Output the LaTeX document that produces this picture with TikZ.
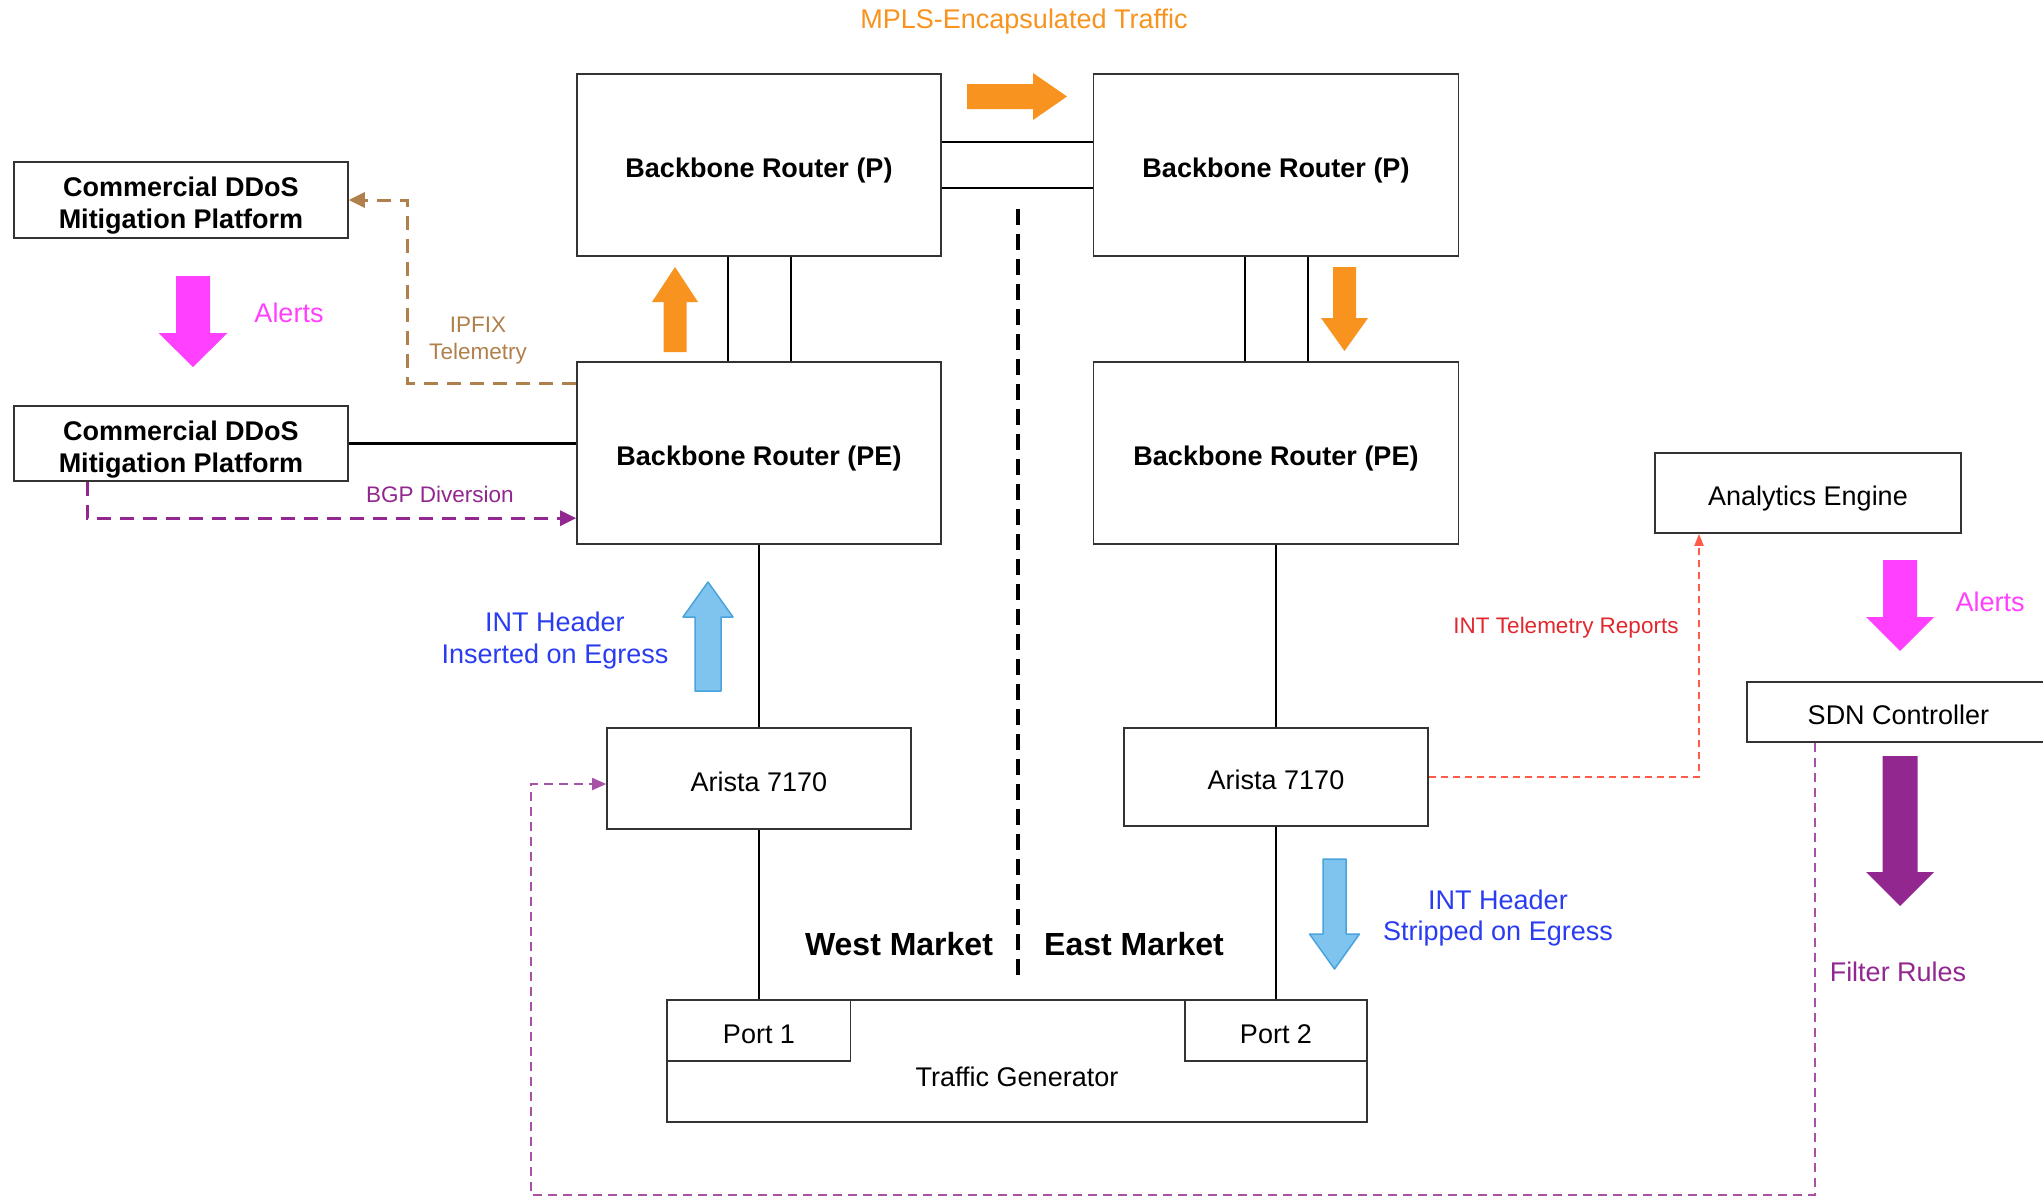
\documentclass[tikz,border=0pt]{standalone}
\usepackage{fontspec}
\setmainfont{Liberation Sans}
\usetikzlibrary{arrows.meta,calc}
\definecolor{orng}{HTML}{F7931E}
\definecolor{pnk}{HTML}{FF40FF}
\definecolor{purp}{HTML}{92278F}
\definecolor{brwn}{HTML}{B0804C}
\definecolor{redtxt}{HTML}{E0282E}
\definecolor{redln}{HTML}{FF5A4A}
\definecolor{bluetxt}{HTML}{2A3CF0}
\definecolor{bluefill}{HTML}{7EC4EE}
\definecolor{blueedge}{HTML}{4AA3DC}
\newcommand\vblock[7]{%
  \path[#1] (#2-#6,#3) -- (#2-#6,#4) -- (#2-#7,#4) -- (#2,#5) -- (#2+#7,#4) -- (#2+#6,#4) -- (#2+#6,#3) -- cycle;}
\newcommand\tallstrut{\rule{0pt}{25pt}}
\begin{document}
\begin{tikzpicture}[x=1pt,y=-1pt,
  box/.style={draw=black!80,line width=1.6pt,fill=white,inner sep=0pt,align=center,
    font=\fontsize{27}{32}\selectfont,text height=25pt,text depth=0pt},
  bbox/.style={box,font=\fontsize{27}{32}\selectfont\bfseries},
  mbox/.style={draw=black!80,line width=1.6pt,fill=white,inner sep=0pt,align=center,
    font=\fontsize{27}{32}\selectfont\bfseries,text depth=0pt},
  link/.style={line width=2.2pt,black},
  lbl/.style={inner sep=0pt,align=center,font=\fontsize{27}{31.5}\selectfont},
  slbl/.style={inner sep=0pt,align=center,font=\fontsize{22.5}{27}\selectfont},
  ipfixln/.style={draw=brwn,line width=3pt,dash pattern=on 14pt off 9pt,-{Triangle[length=16pt,width=15pt]}},
  bgpln/.style={draw=purp,line width=3pt,dash pattern=on 14pt off 9pt,-{Triangle[length=16pt,width=15pt]}},
  redln/.style={draw=redln,line width=2pt,dash pattern=on 7pt off 5pt,-{Triangle[length=12pt,width=9pt]}},
  filtln/.style={draw=purp!80,line width=1.8pt,dash pattern=on 9pt off 6pt,-{Triangle[length=14pt,width=12pt]}},
  midln/.style={line width=3.6pt,black,dash pattern=on 16pt off 9pt}
]
\useasboundingbox (0,0) rectangle (2043,1197);

% boxes
\node[bbox,minimum width=364pt,minimum height=182pt] (wP) at (759,165) {Backbone Router (P)};
\node[bbox,minimum width=365pt,minimum height=182pt] (eP) at (1276,165) {Backbone Router (P)};
\node[bbox,minimum width=364pt,minimum height=182pt] (wPE) at (759,453) {Backbone Router (PE)};
\node[bbox,minimum width=365pt,minimum height=182pt] (ePE) at (1276,453) {Backbone Router (PE)};
\node[mbox,minimum width=334pt,minimum height=76pt] (dd1) at (181,200) {\tallstrut Commercial DDoS\\Mitigation Platform};
\node[mbox,minimum width=334pt,minimum height=75pt] (dd2) at (181,443.5) {\tallstrut Commercial DDoS\\Mitigation Platform};
\node[box,minimum width=304pt,minimum height=101pt] (wA) at (759,778.5) {Arista 7170};
\node[box,minimum width=304pt,minimum height=98pt] (eA) at (1276,777) {Arista 7170};
\node[box,minimum width=306pt,minimum height=80pt] (an) at (1808,493) {Analytics Engine};
\node[box,minimum width=303pt,minimum height=60pt] (sdn) at (1898.5,712) {SDN Controller};
\node[box,minimum width=700pt,minimum height=122pt] (tg) at (1017,1061) {};
\node[lbl,font=\fontsize{27}{32}\selectfont] (tgt) at (1017,1077) {Traffic Generator};
\node[box,minimum width=183pt,minimum height=61pt] (p1) at (759,1030.5) {Port 1};
\node[box,minimum width=182pt,minimum height=61pt] (p2) at (1276,1030.5) {Port 2};

% solid links
\draw[link] ([yshift=23pt]wP.east) -- ([yshift=23pt]eP.west);
\draw[link] ([yshift=-23pt]wP.east) -- ([yshift=-23pt]eP.west);
\draw[link] ([xshift=-31pt]wP.south) -- ([xshift=-31pt]wPE.north);
\draw[link] ([xshift=32pt]wP.south) -- ([xshift=32pt]wPE.north);
\draw[link] ([xshift=-31pt]eP.south) -- ([xshift=-31pt]ePE.north);
\draw[link] ([xshift=32pt]eP.south) -- ([xshift=32pt]ePE.north);
\draw[link] (dd2.east) -- (dd2.east -| wPE.west);
\draw[link] (wPE.south) -- (wA.north);
\draw[link] (wA.south) -- (p1.north);
\draw[link] (ePE.south) -- (eA.north);
\draw[link] (eA.south) -- (p2.north);

% dashed divider
\coordinate (mtop) at (1018,209);
\coordinate (mbot) at (1018,981);
\draw[midln] (mtop) -- (mbot);

% dashed connectors
\draw[ipfixln] ($(wPE.north west)+(0,22)$) -- ++(-169,0) |- (dd1.east);
\draw[bgpln] ([xshift=-94pt]dd2.south) |- ($(wPE.north west)+(0,157)$);
\draw[redln] (eA.east) -| ([xshift=-109pt]an.south);
\coordinate (fr) at (1815,1195);
\coordinate (fl) at (531,1195);
\draw[filtln] ([xshift=-83.5pt]sdn.south) -- (fr) -- (fl) |- ([yshift=-5.5pt]wA.west);

% block arrows
\path[fill=orng] (967,84) -- (1033,84) -- (1033,73) -- (1067,96.5) -- (1033,120) -- (1033,109) -- (967,109) -- cycle;
\vblock{fill=orng}{675}{352}{302}{267}{11.5}{23}
\vblock{fill=orng}{1344.5}{267}{318}{351}{11.5}{23.5}
\vblock{fill=pnk}{193}{276}{333}{367}{17}{34.5}
\vblock{fill=pnk}{1900}{560}{617}{651}{17}{34}
\vblock{fill=purp}{1900}{756}{872}{906}{17.5}{34}
\vblock{fill=bluefill,draw=blueedge,line width=1.5pt,line join=round}{708}{691}{617}{582}{13}{25}
\vblock{fill=bluefill,draw=blueedge,line width=1.5pt,line join=round}{1334.5}{859}{934}{969}{11.5}{25}

% labels
\node[lbl,text=orng] (mpls) at (1024,21.5) {MPLS-Encapsulated Traffic};
\node[lbl,text=pnk] (al1) at (289,313) {Alerts};
\node[lbl,text=pnk] (al2) at (1990,602) {Alerts};
\node[slbl,text=brwn] (ipfix) at (478,341) {IPFIX\\Telemetry};
\node[slbl,text=purp] (bgp) at (440,494) {BGP Diversion};
\node[lbl,text=bluetxt] (inth1) at (555,640.5) {INT Header\\Inserted on Egress};
\node[lbl,text=bluetxt] (inth2) at (1498,918) {INT Header\\Stripped on Egress};
\node[slbl,text=redtxt] (intr) at (1566,627.5) {INT Telemetry Reports};
\node[lbl,text=purp] (filt) at (1898,972) {Filter Rules};
\node[lbl,font=\fontsize{32}{36}\selectfont\bfseries] (wm) at (899,944) {West Market};
\node[lbl,font=\fontsize{32}{36}\selectfont\bfseries] (em) at (1134,944) {East Market};
\end{tikzpicture}
\end{document}
